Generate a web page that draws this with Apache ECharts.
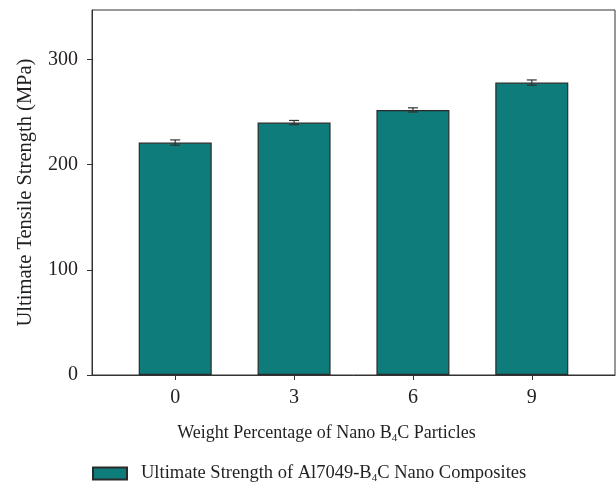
<!DOCTYPE html>
<html>
<head>
<meta charset="utf-8">
<script src="https://cdn.jsdelivr.net/npm/echarts@6/dist/echarts.min.js"></script>
<style>
  html, body { margin: 0; padding: 0; background: #fff; }
  #chart { width: 616px; height: 486px; }
</style>
</head>
<body>
<div id="chart"></div>
<script>
// B4C content (wt.%) and the measured ultimate tensile strength (MPa)
const weightPct = [0, 3, 6, 9];
const strength = [221, 240, 252, 278];
const strengthErr = [2.5, 2, 2, 2.5];
const yTicks = [0, 100, 200, 300];

const seriesName = 'Ultimate Strength of Al7049-B4C Nano Composites';
const FONT = '"Liberation Serif", "Times New Roman", serif';
const INK = '#231f20';
const subStyle = { fontSize: 11, fontFamily: FONT, color: INK, verticalAlign: 'bottom', padding: [10, 0, 0, 0] };

const chart = echarts.init(document.getElementById('chart'), null, { renderer: 'canvas' });

chart.setOption({
  animation: false,
  backgroundColor: '#fff',
  grid: {
    left: 92, right: 1, top: 10, bottom: 111,
    show: true, borderColor: '#333', borderWidth: 1, backgroundColor: 'transparent'
  },
  legend: {
    data: [seriesName],
    left: 92, top: 464, padding: 0,
    icon: 'rect', itemWidth: 34, itemHeight: 12, itemGap: 10,
    formatter: () => '{gap|}Ultimate Strength of Al7049-B{sub|4}C Nano Composites',
    textStyle: {
      fontFamily: FONT, fontSize: 18.5, color: INK,
      rich: { sub: subStyle, gap: { width: 9 } }
    }
  },
  xAxis: {
    type: 'value',
    min: -2.1, max: 11.1,
    name: 'Weight Percentage of Nano B{sub|4}C Particles',
    nameLocation: 'middle', nameGap: 48,
    nameTextStyle: {
      fontFamily: FONT, fontSize: 18, color: INK,
      padding: [0, 54, 0, 0],
      rich: { sub: subStyle }
    },
    axisLine: { onZero: false, lineStyle: { color: '#333', width: 1 } },
    axisTick: { show: true, inside: false, length: 5, customValues: weightPct, lineStyle: { color: '#333' } },
    axisLabel: { customValues: weightPct, fontFamily: FONT, fontSize: 20, color: INK, margin: 13 },
    splitLine: { show: false }
  },
  yAxis: {
    type: 'value',
    min: 0, max: 347, interval: 100,
    name: 'Ultimate Tensile Strength (MPa)',
    nameLocation: 'middle', nameGap: 56, nameRotate: 90,
    nameTextStyle: { fontFamily: FONT, fontSize: 20.5, color: INK },
    axisLine: { show: true, onZero: false, lineStyle: { color: '#333', width: 1 } },
    axisTick: { show: true, inside: false, length: 5, customValues: yTicks, lineStyle: { color: '#333' } },
    axisLabel: {
      customValues: yTicks,
      fontFamily: FONT, fontSize: 20, color: INK, margin: 14
    },
    splitLine: { show: false }
  },
  series: [
    {
      name: seriesName,
      type: 'bar',
      barWidth: 73,
      data: weightPct.map((w, i) => [w, strength[i]]),
      itemStyle: { color: '#0f7c7c', borderColor: '#2a2a2a', borderWidth: 1.2 },
      z: 2
    },
    {
      name: 'errors',
      type: 'custom',
      data: weightPct.map((w, i) => [w, strength[i], strengthErr[i]]),
      encode: { x: 0, y: 1 },
      z: 3,
      renderItem: (params, api) => {
        const x = api.value(0), y = api.value(1), e = api.value(2);
        const hi = api.coord([x, y + e]);
        const lo = api.coord([x, y - e]);
        const hw = 5;
        const style = { stroke: '#333', lineWidth: 1.2 };
        return {
          type: 'group',
          children: [
            { type: 'line', shape: { x1: hi[0], y1: hi[1], x2: lo[0], y2: lo[1] }, style },
            { type: 'line', shape: { x1: hi[0] - hw, y1: hi[1], x2: hi[0] + hw, y2: hi[1] }, style },
            { type: 'line', shape: { x1: lo[0] - hw, y1: lo[1], x2: lo[0] + hw, y2: lo[1] }, style }
          ]
        };
      }
    }
  ]
});
</script>
</body>
</html>
